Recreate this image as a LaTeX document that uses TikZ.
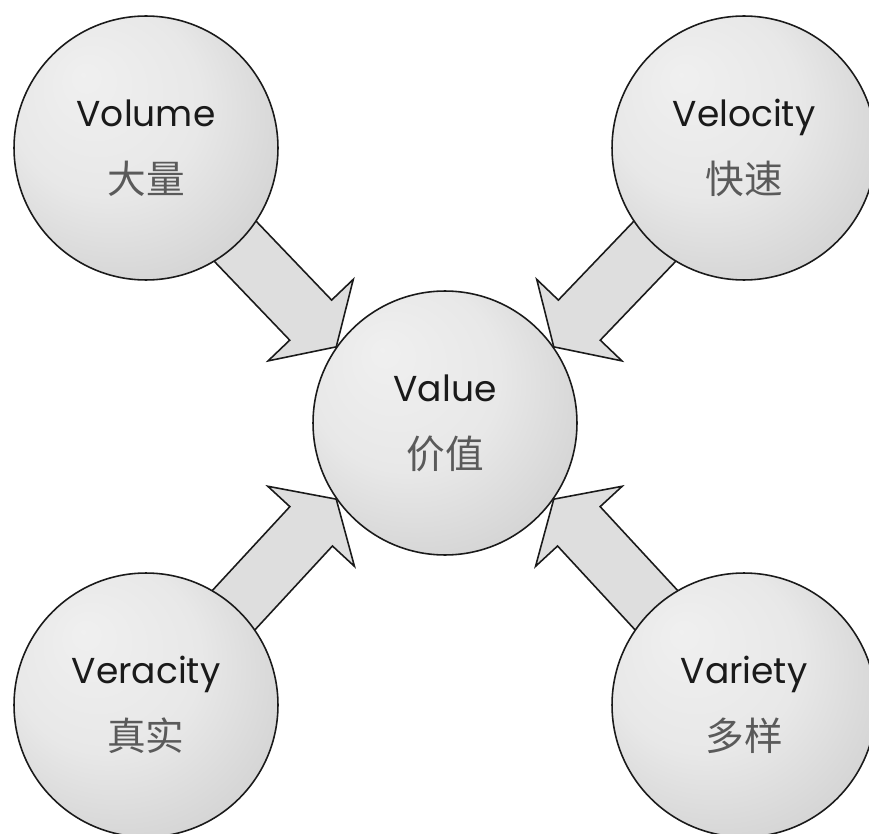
\documentclass[tikz,border=0pt]{standalone}
\usepackage{fontspec}
\setmainfont{Poppins}
\newfontfamily\cjk{Noto Sans CJK SC}
\usepackage{xcolor}
\usepackage{tikz}
\usetikzlibrary{positioning, calc, backgrounds}
\definecolor{ink}{HTML}{1A1A1A}
\definecolor{zhgray}{HTML}{5A5A5A}
\definecolor{shaftgray}{HTML}{DEDEDE}

\pgfdeclareradialshading{orb}{\pgfpoint{-12bp}{14bp}}{%
  color(0bp)=(white!94!black); color(18bp)=(white!91!black);
  color(42bp)=(white!78!black); color(50bp)=(white!70!black)}

\newcommand{\fatarrow}[2]{%
  \coordinate (fs) at ($(#1.center)!2cm!(#2)$);
  \coordinate (fh) at ($(#2)!0.74cm!(#1.center)$);
  \draw[fat] ($(fs)!0.58cm!90:(#2)$) -- ($(fh)!0.58cm!90:(#2)$)
    -- ($(fh)!1.18cm!90:(#2)$) -- (#2)
    -- ($(fh)!1.18cm!-90:(#2)$) -- ($(fh)!0.58cm!-90:(#2)$)
    -- ($(fs)!0.58cm!-90:(#2)$) -- cycle;
}

\begin{document}
\begin{tikzpicture}[
  x=0.02cm, y=0.02cm,
  orb/.style={
    circle, draw=ink, line width=0.9pt, shading=orb,
    minimum size=5.28cm, inner sep=0pt,
    align=center, font=\fontsize{20.5}{38}\selectfont, text=ink
  },
  fat/.style={draw=ink, line width=0.9pt, fill=shaftgray, line join=miter},
]
\useasboundingbox (0,0) rectangle (869,833);

% Centre
\node[orb] (val) at (445,410)
  {Value\\{\cjk\color{zhgray}\fontsize{22}{38}\selectfont 价值}};

% Corners
\node[orb] (vol) at (146,685)
  {Volume\\{\cjk\color{zhgray}\fontsize{22}{38}\selectfont 大量}};
\node[orb] (vel) at (744,685)
  {Velocity\\{\cjk\color{zhgray}\fontsize{22}{38}\selectfont 快速}};
\node[orb] (ver) at (146,128)
  {Veracity\\{\cjk\color{zhgray}\fontsize{22}{38}\selectfont 真实}};
\node[orb] (var) at (744,128)
  {Variety\\{\cjk\color{zhgray}\fontsize{22}{38}\selectfont 多样}};

% Arrows
\begin{scope}[on background layer]
  \fatarrow{vol}{val.145}
  \fatarrow{vel}{val.35}
  \fatarrow{ver}{val.215}
  \fatarrow{var}{val.-35}
\end{scope}

\end{tikzpicture}
\end{document}
